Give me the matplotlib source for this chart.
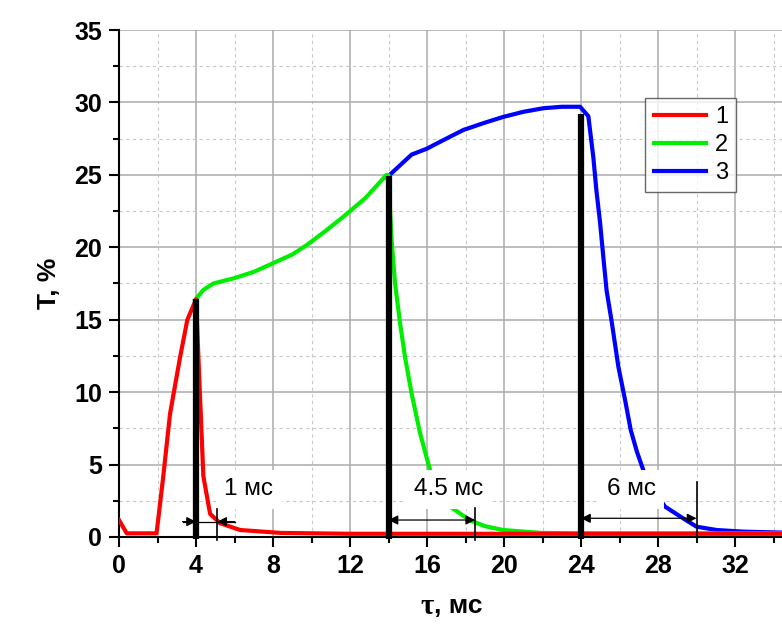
import matplotlib
matplotlib.use("Agg")
import matplotlib.pyplot as plt
from matplotlib.ticker import MultipleLocator

plt.rcParams['font.family'] = ['Liberation Sans', 'DejaVu Sans']

# curve 1 (red)
red_x = [0, 0.4, 1.95, 2.3, 2.65, 3.17, 3.55, 4.0, 4.38, 4.73, 5.25, 6.3, 8.4, 12, 20, 28, 34.5]
red_y = [1.17, 0.25, 0.25, 4.2, 8.5, 12.4, 15.0, 16.4, 4.2, 1.6, 0.95, 0.48, 0.28, 0.22, 0.22, 0.22, 0.22]

# curve 2 (green)
green_x = [3.95, 4.38, 4.9, 5.94, 7.0, 8.0, 9.0, 9.75, 10.7, 11.65, 12.8, 13.9, 13.99, 14.16, 14.34,
           14.6, 14.86, 15.2, 15.64, 16.16, 16.7, 17.2, 18.2, 19.0, 19.95, 21.9, 24, 28, 34.5]
green_y = [16.36, 17.05, 17.5, 17.85, 18.3, 18.9, 19.5, 20.15, 21.1, 22.1, 23.4, 25.0, 24.98, 20.5, 17.5,
           14.75, 12.4, 9.9, 7.16, 4.6, 3.1, 2.1, 1.17, 0.75, 0.48, 0.28, 0.25, 0.25, 0.25]

# curve 3 (blue)
blue_x = [13.9, 15.2, 15.98, 17.0, 17.89, 19.0, 19.96, 21.0, 22.04, 23.0, 23.95, 24.38, 24.64, 24.8,
          24.99, 25.16, 25.33, 25.6, 25.94, 26.29, 26.58, 26.9, 27.24, 27.8, 28.36, 29.3, 30.0, 31.05,
          32.4, 34.5]
blue_y = [24.8, 26.4, 26.8, 27.5, 28.1, 28.6, 29.0, 29.35, 29.6, 29.7, 29.7, 29.05, 26.2, 23.9,
          21.7, 19.3, 17.0, 14.8, 11.75, 9.45, 7.4, 5.9, 4.6, 3.2, 2.1, 1.29, 0.71, 0.48,
          0.37, 0.3]

# switch-off moments (thick lines) and decay ends (thin lines)
off_x = [4, 14, 24]
off_top = [16.4, 24.9, 29.2]
end_x = [5.1, 18.5, 30.0]
end_top = [1.9, 2.0, 3.8]
arrow_y = [1.06, 1.17, 1.29]
labels = ['1 мс', '4.5 мс', '6 мс']
label_pos = [(6.75, 3.3), (17.1, 3.3), (26.6, 3.3)]

fig = plt.figure(figsize=(7.82, 6.33), dpi=100)
ax = fig.add_axes([0.1522, 0.1517, 0.8478, 0.8009])

ax.plot(blue_x, blue_y, color='#0000ff', lw=3, label='3', zorder=3)
ax.plot(green_x, green_y, color='#00ee00', lw=3, label='2', zorder=3)
ax.plot(red_x, red_y, color='#ff0000', lw=3, label='1', zorder=4)

for x, t in zip(off_x, off_top):
    ax.plot([x, x], [-0.15, t], color='black', lw=4.5, zorder=6, clip_on=False, solid_capstyle='butt')
for x, t in zip(end_x, end_top):
    ax.plot([x, x], [-0.2, t], color='black', lw=1.2, zorder=6, clip_on=False)

# annotation texts
for (tx, ty), s in zip(label_pos, labels):
    ax.text(tx, ty, s, fontsize=17.5, ha='center', va='center', zorder=5,
            bbox=dict(boxstyle='square,pad=0.35', fc='white', ec='none'))

# 1 мс : arrows from outside
ap = dict(arrowstyle='-|>', color='black', lw=0.9, mutation_scale=14, shrinkA=0, shrinkB=0)
ax.plot([3.3, 6.0], [arrow_y[0], arrow_y[0]], color='black', lw=0.9, zorder=7)
ax.annotate('', xy=(off_x[0], arrow_y[0]), xytext=(3.3, arrow_y[0]), arrowprops=ap, zorder=7)
ax.annotate('', xy=(end_x[0], arrow_y[0]), xytext=(6.0, arrow_y[0]), arrowprops=ap, zorder=7)
# 4.5 мс and 6 мс : arrows inside
ap2 = dict(arrowstyle='<|-|>', color='black', lw=0.9, mutation_scale=14, shrinkA=0, shrinkB=0)
for i in (1, 2):
    ax.annotate('', xy=(off_x[i], arrow_y[i]), xytext=(end_x[i], arrow_y[i]), arrowprops=ap2, zorder=7)

ax.set_xlim(0, 34.44)
ax.set_ylim(0, 35)
ax.xaxis.set_major_locator(MultipleLocator(4))
ax.xaxis.set_minor_locator(MultipleLocator(2))
ax.yaxis.set_major_locator(MultipleLocator(5))
ax.yaxis.set_minor_locator(MultipleLocator(2.5))
ax.grid(which='major', color='#ababab', lw=1.1, zorder=0)
ax.grid(which='minor', color='#c8c8c8', lw=0.8, linestyle=(0, (3, 3)), zorder=0)
ax.set_axisbelow(True)

for side in ('top', 'right'):
    ax.spines[side].set_visible(False)
for side in ('left', 'bottom'):
    ax.spines[side].set_linewidth(1.5)

ax.tick_params(which='major', direction='out', length=7, width=1.5, labelsize=18, pad=5)
ax.tick_params(which='minor', direction='out', length=4, width=1.5)
for lab in ax.get_xticklabels() + ax.get_yticklabels():
    lab.set_fontweight('bold')

ax.set_ylabel('T, %', fontsize=19, fontweight='bold', labelpad=10)

# x label: serif tau + sans bold units
fig.text(434 / 782, 1 - 606 / 633, 'τ', fontsize=21, family=['Liberation Serif'], fontweight='bold',
         ha='right', va='center')
fig.text(434 / 782, 1 - 606 / 633, ', мс', fontsize=19, fontweight='bold', ha='left', va='center')

h, l = ax.get_legend_handles_labels()
order = [2, 1, 0]
leg = ax.legend([h[i] for i in order], [l[i] for i in order], loc='upper left',
                bbox_to_anchor=(0.794, 0.866), fontsize=17, frameon=True, fancybox=False,
                handlelength=2.2, handletextpad=0.4, labelspacing=0.25, borderpad=0.35,
                borderaxespad=0)
leg.get_frame().set_edgecolor('#444444')
leg.get_frame().set_linewidth(1.0)
leg.set_zorder(10)

fig.savefig('out.png', dpi=100)
